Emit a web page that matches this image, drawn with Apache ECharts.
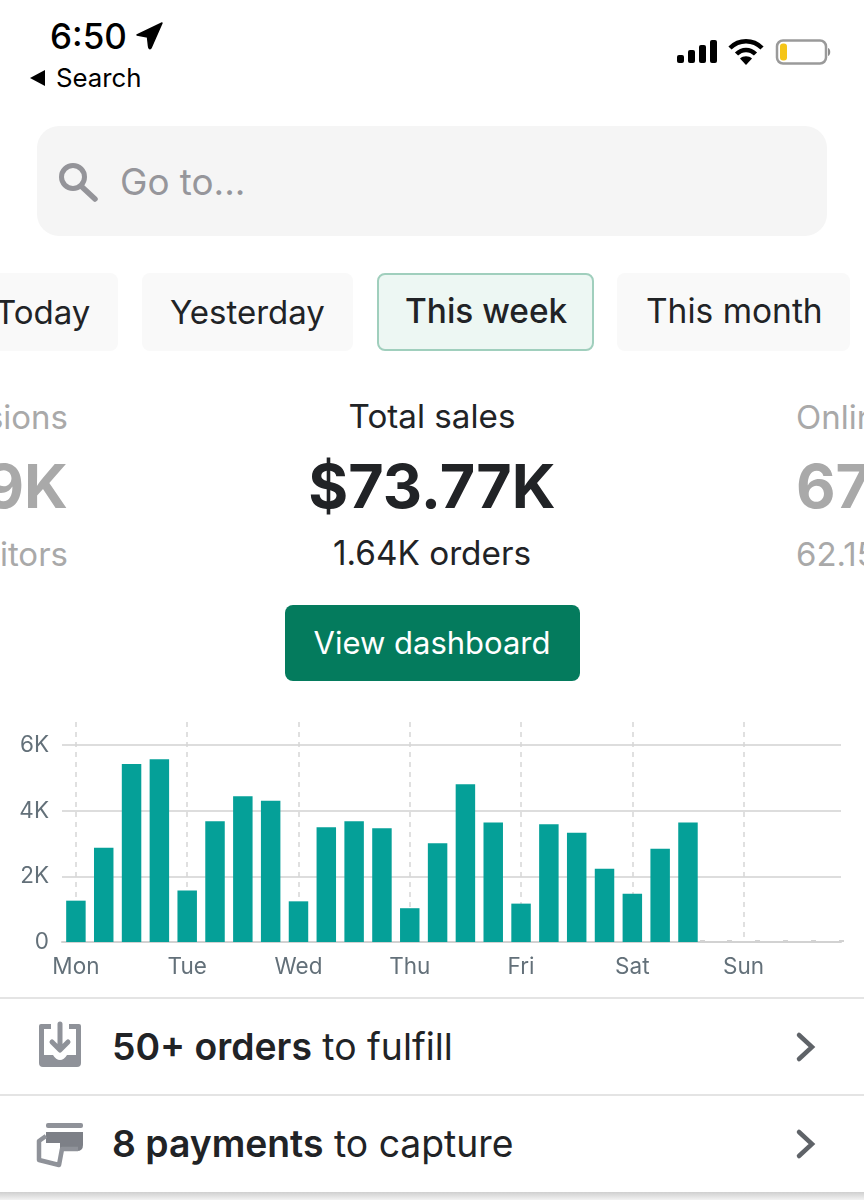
<!DOCTYPE html>
<html>
<head>
<meta charset="utf-8">
<script src="https://cdn.jsdelivr.net/npm/echarts@6/dist/echarts.min.js"></script>
<style>
  html, body { margin: 0; padding: 0; background: #fff; }
  #page { position: relative; width: 864px; height: 1200px; overflow: hidden; font-family: Inter, "Noto Sans", sans-serif; color: #212326; }
  .t { position: absolute; white-space: nowrap; line-height: 1; transform: translateY(-50%); }
  .c { transform: translate(-50%, -50%); }
  .box { position: absolute; box-sizing: border-box; }
  .faded { color: #a9a9a9; }
  .tab { background: #f9f9f9; border-radius: 8px; top: 273px; height: 78px; }
  .line { position: absolute; left: 0; width: 864px; height: 2px; background: #e4e4e4; }
  svg { position: absolute; overflow: visible; }
  b { font-weight: 600; }
  #chart { position: absolute; left: 0; top: 700px; width: 864px; height: 290px; }
</style>
</head>
<body>
<div id="page">
  <!-- status bar -->
  <div class="t" style="left:50px;top:36px;font-size:35px;font-weight:500;color:#000">6:50</div>
  <svg style="left:136px;top:22px" width="28" height="28" viewBox="0 0 28 28"><path d="M1 13 L26 1 L15 26 Q13 28 12.500 24 L11.500 15 Z" fill="#000" stroke="#000" stroke-width="1.500" stroke-linejoin="round"/></svg>
  <svg style="left:29px;top:70px" width="18" height="16" viewBox="0 0 18 16"><path d="M16 0 V16 L1 8 Z" fill="#000"/></svg>
  <div class="t" style="left:56px;top:78px;font-size:25.8px;color:#000">Search</div>
  <svg style="left:677px;top:40px" width="40" height="24" viewBox="0 0 40 24">
    <rect x="0" y="15" width="7" height="8" rx="2" fill="#000"/><rect x="11" y="10" width="7" height="13" rx="2" fill="#000"/>
    <rect x="22" y="5" width="7" height="18" rx="2" fill="#000"/><rect x="33" y="0" width="7" height="23" rx="2" fill="#000"/>
  </svg>
  <svg style="left:728px;top:39px" width="36" height="26" viewBox="0 0 36 26">
    <path d="M2 9 C11 0 25 0 34 9" fill="none" stroke="#000" stroke-width="4.500"/>
    <path d="M8.500 15 C14 9.500 22 9.500 27.500 15" fill="none" stroke="#000" stroke-width="4.500"/>
    <path d="M18 26 L12 19.500 C15 16.500 21 16.500 24 19.500 Z" fill="#000"/>
  </svg>
  <svg style="left:775px;top:39px" width="56" height="27" viewBox="0 0 56 27">
    <rect x="2" y="1.500" width="49" height="23" rx="6" fill="#fff" stroke="#9a9a9a" stroke-width="2.500"/>
    <rect x="5" y="4.500" width="7" height="17" rx="3" fill="#f5c518"/>
    <path d="M53 9 C56 10 56 16 53 17 Z" fill="#8c8c8c"/>
  </svg>

  <!-- search box -->
  <div class="box" style="left:37px;top:126px;width:790px;height:110px;background:#f5f5f5;border-radius:22px"></div>
  <svg style="left:58px;top:162px" width="42" height="40" viewBox="0 0 42 40">
    <circle cx="15" cy="15" r="11.500" fill="none" stroke="#949499" stroke-width="5"/>
    <path d="M23 24 L37 37" stroke="#949499" stroke-width="5.500" stroke-linecap="round"/>
  </svg>
  <div class="t" style="left:120px;top:182px;font-size:36.8px;color:#96969b">Go to...</div>

  <!-- range tabs -->
  <div class="box tab" style="left:-20px;width:138px"></div>
  <div class="t" style="left:-5px;top:312px;font-size:33px">Today</div>
  <div class="box tab" style="left:142px;width:211px"></div>
  <div class="t" style="left:170px;top:312px;font-size:33px">Yesterday</div>
  <div class="box tab" style="left:377px;width:217px;background:#edf7f3;border:2px solid #a0cfbd"></div>
  <div class="t" style="left:405px;top:312px;font-size:33.400px;font-weight:500">This week</div>
  <div class="box tab" style="left:617px;width:233px"></div>
  <div class="t" style="left:646px;top:312px;font-size:33.500px">This month</div>

  <!-- metrics carousel -->
  <div class="t faded" style="right:796px;top:417px;font-size:33px">sions</div>
  <div class="t faded" style="right:796px;top:486px;font-size:61px;font-weight:700">9K</div>
  <div class="t faded" style="right:796px;top:554px;font-size:33px">itors</div>
  <div class="t c" style="left:432px;top:417px;font-size:33.200px">Total sales</div>
  <div class="t c" style="left:432px;top:486px;font-size:61px;font-weight:700">$73.77K</div>
  <div class="t c" style="left:432px;top:554px;font-size:33.300px">1.64K orders</div>
  <div class="t faded" style="left:796px;top:417px;font-size:33px">Online</div>
  <div class="t faded" style="left:796px;top:486px;font-size:61px;font-weight:700">67</div>
  <div class="t faded" style="left:796px;top:554px;font-size:33px">62.15</div>

  <div class="box" style="left:285px;top:605px;width:295px;height:76px;background:#047b5d;border-radius:8px"></div>
  <div class="t c" style="left:432px;top:642px;font-size:31px;color:#fff">View dashboard</div>

  <div id="chart"></div>

  <!-- task rows -->
  <div class="line" style="top:997px"></div>
  <svg style="left:38px;top:1022px" width="44" height="46" viewBox="0 0 44 46">
    <path d="M13 2 H3 Q1 2 1 4 V41 Q1 45 5 45 H39 Q43 45 43 41 V4 Q43 2 41 2 H31 V7 H38 V33 H29 Q26 38 22 38 Q18 38 15 33 H6 V7 H13 Z" fill="#8f9299"/>
    <path d="M22 2 V27 M14 20 L22 28 L30 20" fill="none" stroke="#8f9299" stroke-width="5" stroke-linecap="round" stroke-linejoin="round"/>
  </svg>
  <div class="t" style="left:112px;top:1047px;font-size:37.300px"><b>50+ orders</b> to fulfill</div>
  <svg style="left:795px;top:1032px" width="22" height="30" viewBox="0 0 22 30"><path d="M4 3 L17 15 L4 27" fill="none" stroke="#5f6368" stroke-width="4.500" stroke-linecap="round"/></svg>

  <div class="line" style="top:1094px"></div>
  <svg style="left:36px;top:1122px" width="48" height="46" viewBox="0 0 48 46">
    <rect x="10" y="1" width="37" height="5" rx="2" fill="#8f9299"/>
    <path d="M10 10 H47 V23 Q47 29 41 29 H24 V21 H10 Z" fill="#7d8087"/>
    <path d="M10 14 L3 19 V38 L23 43 L26 27 H42" fill="none" stroke="#8f9299" stroke-width="4.500" stroke-linejoin="round"/>
  </svg>
  <div class="t" style="left:112px;top:1144px;font-size:37.300px"><b>8 payments</b> to capture</div>
  <svg style="left:795px;top:1129px" width="22" height="30" viewBox="0 0 22 30"><path d="M4 3 L17 15 L4 27" fill="none" stroke="#5f6368" stroke-width="4.500" stroke-linecap="round"/></svg>

  <div class="box" style="left:0;top:1192px;width:864px;height:8px;background:linear-gradient(#cfcfcf,#f2f2f2)"></div>
</div>

<script>
// 图表数据
var categories = [
  'Mon', '', '', '', 'Tue', '', '', '', 'Wed', '', '', '', 'Thu', '', '',
  '', 'Fri', '', '', '', 'Sat', '', '', '', 'Sun', '', '', ''
];
var salesValues = [
  1260, 2870, 5430, 5570, 1570, 3680, 4440, 4310, 1240, 3500, 3680, 3470, 1030, 3010, 4810,
  3640, 1170, 3590, 3330, 2230, 1470, 2840, 3640, 0, 0, 0, 0, 0
];
var yTickLabels = { 0: '0', 2000: '2K', 4000: '4K', 6000: '6K' };

function isDayStart (index) {
  return categories[index] !== '';
}

function renderSalesChart (id) {
  var chart = echarts.init(document.getElementById(id));
  var grayColor = '#637079';
  var lineColor = '#d2d2d2';
  var option = {
    animation: false,
    grid: {
      left: 62,
      right: 23,
      top: 22,
      bottom: 48
    },
    xAxis: {
      type: 'category',
      data: categories,
      axisLine: {
        lineStyle: { color: lineColor, width: 2 }
      },
      axisTick: {
        show: true,
        inside: true,
        length: 2,
        // 周日没有数据，只留下小刻度
        interval: function (index) { return index >= 23; },
        lineStyle: { color: lineColor, width: 5 }
      },
      axisLabel: {
        interval: 0,
        hideOverlap: false,
        color: grayColor,
        fontSize: 22.5,
        fontFamily: 'Inter',
        margin: 14
      },
      splitLine: {
        show: true,
        alignWithLabel: true,
        interval: isDayStart,
        lineStyle: { type: [5, 5], color: '#d6d6d6', width: 1.5 }
      }
    },
    yAxis: {
      type: 'value',
      min: 0,
      max: 6707,
      interval: 2000,
      axisLine: { show: false },
      axisTick: { show: false },
      axisLabel: {
        showMaxLabel: false,
        color: grayColor,
        fontSize: 22.5,
        fontFamily: 'Inter',
        margin: 13,
        formatter: function (value) { return yTickLabels[value] || ''; }
      },
      splitLine: {
        showMaxLine: false,
        lineStyle: { color: lineColor, width: 1.5 }
      }
    },
    series: [{
      type: 'bar',
      data: salesValues,
      barWidth: '70%',
      itemStyle: { color: '#05a098' }
    }]
  };
  chart.setOption(option, true);
}

renderSalesChart('chart');
</script>
</body>
</html>
